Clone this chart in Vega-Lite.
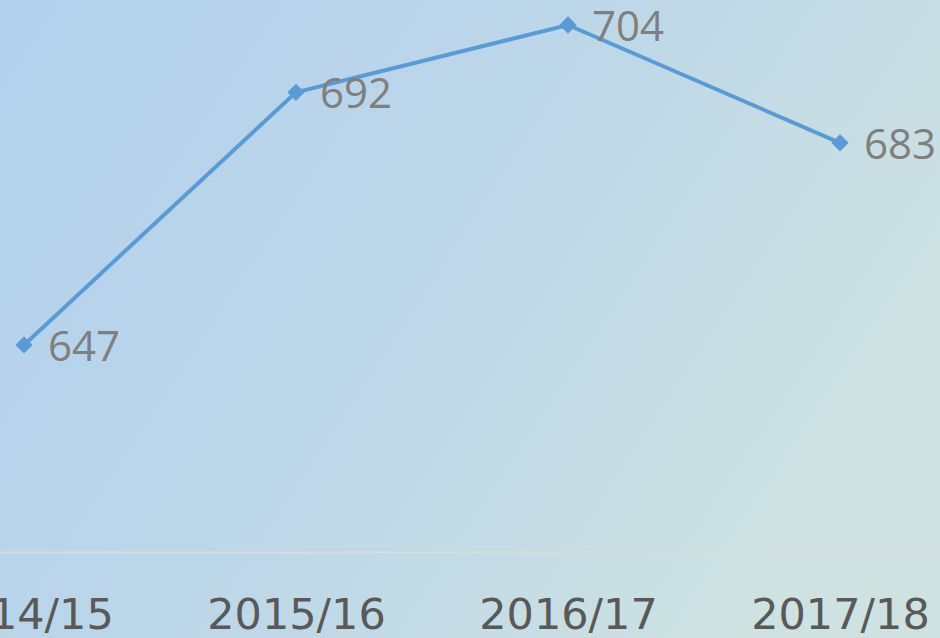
{
  "$schema": "https://vega.github.io/schema/vega-lite/v6.json",
  "width": 940,
  "height": 638,
  "padding": 0,
  "autosize": {"type": "none"},
  "background": "#c2dae6",
  "config": {
    "view": {
      "stroke": null,
      "fill": {
        "gradient": "linear",
        "x1": 0, "y1": 0.1, "x2": 1, "y2": 0.55,
        "stops": [
          {"offset": 0, "color": "#b3d1ed"},
          {"offset": 0.5, "color": "#bdd7e9"},
          {"offset": 1, "color": "#cee2e1"}
        ]
      }
    }
  },
  "data": {
    "values": [
      {"year": "2014/15", "value": 647},
      {"year": "2015/16", "value": 692},
      {"year": "2016/17", "value": 704},
      {"year": "2017/18", "value": 683}
    ]
  },
  "encoding": {
    "x": {
      "field": "year",
      "type": "ordinal",
      "sort": null,
      "scale": {"type": "point", "padding": 0.228, "align": 0.1935},
      "axis": {
        "title": null,
        "offset": -86,
        "domainColor": "#d9dcdf",
        "domainWidth": 2,
        "ticks": false,
        "labelAngle": 0,
        "labelFont": "DejaVu Sans",
        "labelFontSize": 43,
        "labelColor": "#595959",
        "labelBaseline": "alphabetic",
        "labelPadding": 76,
        "labelFlush": false,
        "labelOverlap": false,
        "labelBound": false,
        "grid": false
      }
    },
    "y": {
      "field": "value",
      "type": "quantitative",
      "scale": {"domain": [594.8, 708.45], "zero": false, "nice": false},
      "axis": null
    }
  },
  "layer": [
    {
      "mark": {"type": "line", "color": "#5b9bd5", "strokeWidth": 4, "clip": false}
    },
    {
      "mark": {"type": "point", "shape": "diamond", "filled": true, "color": "#5b9bd5", "size": 300, "opacity": 1}
    },
    {
      "mark": {"type": "text", "align": "left", "baseline": "alphabetic", "dx": 24, "dy": 16, "font": "Open Sans", "fontSize": 42, "color": "#7f7f7f"},
      "encoding": {"text": {"field": "value", "type": "quantitative"}}
    }
  ]
}
